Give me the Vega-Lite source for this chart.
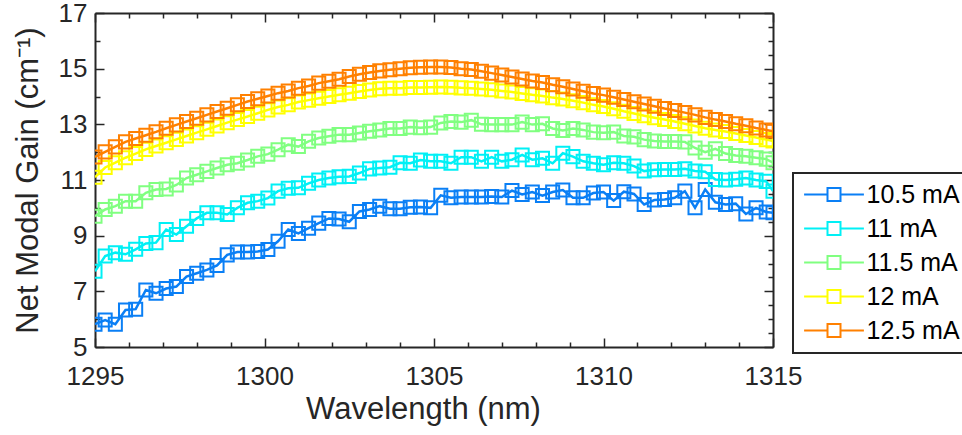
{
"$schema": "https://vega.github.io/schema/vega-lite/v6.json",
"width": 678, "height": 334,
"autosize": {"type": "none"},
"padding": {"left": 95, "top": 13, "right": 189, "bottom": 88},
"background": "white",
"config": {"view": {"stroke": null}, "font": "Liberation Sans"},
"datasets": {
"d": [
{"w":1295,"c":"10.5 mA","g":5.82},{"w":1295.3,"c":"10.5 mA","g":5.97},{"w":1295.6,"c":"10.5 mA","g":5.82},{"w":1295.9,"c":"10.5 mA","g":6.33},{"w":1296.2,"c":"10.5 mA","g":6.36},{"w":1296.5,"c":"10.5 mA","g":7.05},{"w":1296.8,"c":"10.5 mA","g":6.93},{"w":1297.1,"c":"10.5 mA","g":7.1},{"w":1297.4,"c":"10.5 mA","g":7.17},{"w":1297.7,"c":"10.5 mA","g":7.53},{"w":1298,"c":"10.5 mA","g":7.65},{"w":1298.3,"c":"10.5 mA","g":7.77},{"w":1298.6,"c":"10.5 mA","g":7.93},{"w":1298.9,"c":"10.5 mA","g":8.31},{"w":1299.2,"c":"10.5 mA","g":8.41},{"w":1299.5,"c":"10.5 mA","g":8.41},{"w":1299.8,"c":"10.5 mA","g":8.43},{"w":1300.1,"c":"10.5 mA","g":8.5},{"w":1300.4,"c":"10.5 mA","g":8.8},{"w":1300.7,"c":"10.5 mA","g":9.22},{"w":1301,"c":"10.5 mA","g":9.08},{"w":1301.3,"c":"10.5 mA","g":9.27},{"w":1301.6,"c":"10.5 mA","g":9.45},{"w":1301.9,"c":"10.5 mA","g":9.62},{"w":1302.2,"c":"10.5 mA","g":9.6},{"w":1302.5,"c":"10.5 mA","g":9.5},{"w":1302.8,"c":"10.5 mA","g":9.87},{"w":1303.1,"c":"10.5 mA","g":9.94},{"w":1303.4,"c":"10.5 mA","g":10.06},{"w":1303.7,"c":"10.5 mA","g":9.97},{"w":1304,"c":"10.5 mA","g":9.97},{"w":1304.3,"c":"10.5 mA","g":10.02},{"w":1304.6,"c":"10.5 mA","g":10.03},{"w":1304.9,"c":"10.5 mA","g":10.0},{"w":1305.2,"c":"10.5 mA","g":10.45},{"w":1305.5,"c":"10.5 mA","g":10.36},{"w":1305.8,"c":"10.5 mA","g":10.39},{"w":1306.1,"c":"10.5 mA","g":10.39},{"w":1306.4,"c":"10.5 mA","g":10.39},{"w":1306.7,"c":"10.5 mA","g":10.41},{"w":1307,"c":"10.5 mA","g":10.39},{"w":1307.3,"c":"10.5 mA","g":10.62},{"w":1307.6,"c":"10.5 mA","g":10.48},{"w":1307.9,"c":"10.5 mA","g":10.57},{"w":1308.2,"c":"10.5 mA","g":10.44},{"w":1308.5,"c":"10.5 mA","g":10.57},{"w":1308.8,"c":"10.5 mA","g":10.64},{"w":1309.1,"c":"10.5 mA","g":10.36},{"w":1309.4,"c":"10.5 mA","g":10.36},{"w":1309.7,"c":"10.5 mA","g":10.53},{"w":1310,"c":"10.5 mA","g":10.57},{"w":1310.3,"c":"10.5 mA","g":10.26},{"w":1310.6,"c":"10.5 mA","g":10.58},{"w":1310.9,"c":"10.5 mA","g":10.5},{"w":1311.2,"c":"10.5 mA","g":10.12},{"w":1311.5,"c":"10.5 mA","g":10.28},{"w":1311.8,"c":"10.5 mA","g":10.3},{"w":1312.1,"c":"10.5 mA","g":10.36},{"w":1312.4,"c":"10.5 mA","g":10.6},{"w":1312.7,"c":"10.5 mA","g":10.0},{"w":1313,"c":"10.5 mA","g":10.66},{"w":1313.3,"c":"10.5 mA","g":10.2},{"w":1313.6,"c":"10.5 mA","g":10.12},{"w":1313.9,"c":"10.5 mA","g":10.15},{"w":1314.2,"c":"10.5 mA","g":9.78},{"w":1314.5,"c":"10.5 mA","g":10.0},{"w":1314.8,"c":"10.5 mA","g":9.85},{"w":1315,"c":"10.5 mA","g":9.82},
{"w":1295,"c":"11 mA","g":7.72},{"w":1295.3,"c":"11 mA","g":8.27},{"w":1295.6,"c":"11 mA","g":8.39},{"w":1295.9,"c":"11 mA","g":8.33},{"w":1296.2,"c":"11 mA","g":8.51},{"w":1296.5,"c":"11 mA","g":8.72},{"w":1296.8,"c":"11 mA","g":8.75},{"w":1297.1,"c":"11 mA","g":9.22},{"w":1297.4,"c":"11 mA","g":9.04},{"w":1297.7,"c":"11 mA","g":9.34},{"w":1298,"c":"11 mA","g":9.62},{"w":1298.3,"c":"11 mA","g":9.82},{"w":1298.6,"c":"11 mA","g":9.82},{"w":1298.9,"c":"11 mA","g":9.76},{"w":1299.2,"c":"11 mA","g":10.0},{"w":1299.5,"c":"11 mA","g":10.18},{"w":1299.8,"c":"11 mA","g":10.24},{"w":1300.1,"c":"11 mA","g":10.35},{"w":1300.4,"c":"11 mA","g":10.6},{"w":1300.7,"c":"11 mA","g":10.7},{"w":1301,"c":"11 mA","g":10.72},{"w":1301.3,"c":"11 mA","g":10.88},{"w":1301.6,"c":"11 mA","g":11.0},{"w":1301.9,"c":"11 mA","g":11.07},{"w":1302.2,"c":"11 mA","g":11.12},{"w":1302.5,"c":"11 mA","g":11.13},{"w":1302.8,"c":"11 mA","g":11.25},{"w":1303.1,"c":"11 mA","g":11.4},{"w":1303.4,"c":"11 mA","g":11.43},{"w":1303.7,"c":"11 mA","g":11.46},{"w":1304,"c":"11 mA","g":11.62},{"w":1304.3,"c":"11 mA","g":11.6},{"w":1304.6,"c":"11 mA","g":11.72},{"w":1304.9,"c":"11 mA","g":11.67},{"w":1305.2,"c":"11 mA","g":11.67},{"w":1305.5,"c":"11 mA","g":11.6},{"w":1305.8,"c":"11 mA","g":11.82},{"w":1306.1,"c":"11 mA","g":11.82},{"w":1306.4,"c":"11 mA","g":11.67},{"w":1306.7,"c":"11 mA","g":11.82},{"w":1307,"c":"11 mA","g":11.67},{"w":1307.3,"c":"11 mA","g":11.73},{"w":1307.6,"c":"11 mA","g":11.9},{"w":1307.9,"c":"11 mA","g":11.73},{"w":1308.2,"c":"11 mA","g":11.78},{"w":1308.5,"c":"11 mA","g":11.6},{"w":1308.8,"c":"11 mA","g":11.96},{"w":1309.1,"c":"11 mA","g":11.84},{"w":1309.4,"c":"11 mA","g":11.67},{"w":1309.7,"c":"11 mA","g":11.6},{"w":1310,"c":"11 mA","g":11.55},{"w":1310.3,"c":"11 mA","g":11.62},{"w":1310.6,"c":"11 mA","g":11.6},{"w":1310.9,"c":"11 mA","g":11.5},{"w":1311.2,"c":"11 mA","g":11.32},{"w":1311.5,"c":"11 mA","g":11.37},{"w":1311.8,"c":"11 mA","g":11.38},{"w":1312.1,"c":"11 mA","g":11.38},{"w":1312.4,"c":"11 mA","g":11.4},{"w":1312.7,"c":"11 mA","g":11.32},{"w":1313,"c":"11 mA","g":11.3},{"w":1313.3,"c":"11 mA","g":11.02},{"w":1313.6,"c":"11 mA","g":11.0},{"w":1313.9,"c":"11 mA","g":11.03},{"w":1314.2,"c":"11 mA","g":11.07},{"w":1314.5,"c":"11 mA","g":11.0},{"w":1314.8,"c":"11 mA","g":10.95},{"w":1315,"c":"11 mA","g":10.6},
{"w":1295,"c":"11.5 mA","g":9.7},{"w":1295.3,"c":"11.5 mA","g":9.94},{"w":1295.6,"c":"11.5 mA","g":10.06},{"w":1295.9,"c":"11.5 mA","g":10.24},{"w":1296.2,"c":"11.5 mA","g":10.24},{"w":1296.5,"c":"11.5 mA","g":10.54},{"w":1296.8,"c":"11.5 mA","g":10.66},{"w":1297.1,"c":"11.5 mA","g":10.68},{"w":1297.4,"c":"11.5 mA","g":10.82},{"w":1297.7,"c":"11.5 mA","g":11.07},{"w":1298,"c":"11.5 mA","g":11.19},{"w":1298.3,"c":"11.5 mA","g":11.31},{"w":1298.6,"c":"11.5 mA","g":11.43},{"w":1298.9,"c":"11.5 mA","g":11.55},{"w":1299.2,"c":"11.5 mA","g":11.6},{"w":1299.5,"c":"11.5 mA","g":11.72},{"w":1299.8,"c":"11.5 mA","g":11.85},{"w":1300.1,"c":"11.5 mA","g":11.93},{"w":1300.4,"c":"11.5 mA","g":12.09},{"w":1300.7,"c":"11.5 mA","g":12.27},{"w":1301,"c":"11.5 mA","g":12.2},{"w":1301.3,"c":"11.5 mA","g":12.39},{"w":1301.6,"c":"11.5 mA","g":12.51},{"w":1301.9,"c":"11.5 mA","g":12.57},{"w":1302.2,"c":"11.5 mA","g":12.63},{"w":1302.5,"c":"11.5 mA","g":12.63},{"w":1302.8,"c":"11.5 mA","g":12.69},{"w":1303.1,"c":"11.5 mA","g":12.75},{"w":1303.4,"c":"11.5 mA","g":12.8},{"w":1303.7,"c":"11.5 mA","g":12.85},{"w":1304,"c":"11.5 mA","g":12.85},{"w":1304.3,"c":"11.5 mA","g":12.9},{"w":1304.6,"c":"11.5 mA","g":12.88},{"w":1304.9,"c":"11.5 mA","g":12.9},{"w":1305.2,"c":"11.5 mA","g":13.05},{"w":1305.5,"c":"11.5 mA","g":13.1},{"w":1305.8,"c":"11.5 mA","g":13.08},{"w":1306.1,"c":"11.5 mA","g":13.15},{"w":1306.4,"c":"11.5 mA","g":13.0},{"w":1306.7,"c":"11.5 mA","g":12.99},{"w":1307,"c":"11.5 mA","g":12.99},{"w":1307.3,"c":"11.5 mA","g":12.99},{"w":1307.6,"c":"11.5 mA","g":13.08},{"w":1307.9,"c":"11.5 mA","g":12.99},{"w":1308.2,"c":"11.5 mA","g":13.02},{"w":1308.5,"c":"11.5 mA","g":12.85},{"w":1308.8,"c":"11.5 mA","g":12.78},{"w":1309.1,"c":"11.5 mA","g":12.85},{"w":1309.4,"c":"11.5 mA","g":12.8},{"w":1309.7,"c":"11.5 mA","g":12.72},{"w":1310,"c":"11.5 mA","g":12.7},{"w":1310.3,"c":"11.5 mA","g":12.72},{"w":1310.6,"c":"11.5 mA","g":12.58},{"w":1310.9,"c":"11.5 mA","g":12.55},{"w":1311.2,"c":"11.5 mA","g":12.45},{"w":1311.5,"c":"11.5 mA","g":12.4},{"w":1311.8,"c":"11.5 mA","g":12.38},{"w":1312.1,"c":"11.5 mA","g":12.38},{"w":1312.4,"c":"11.5 mA","g":12.37},{"w":1312.7,"c":"11.5 mA","g":12.15},{"w":1313,"c":"11.5 mA","g":12.0},{"w":1313.3,"c":"11.5 mA","g":12.12},{"w":1313.6,"c":"11.5 mA","g":11.95},{"w":1313.9,"c":"11.5 mA","g":11.88},{"w":1314.2,"c":"11.5 mA","g":11.85},{"w":1314.5,"c":"11.5 mA","g":11.8},{"w":1314.8,"c":"11.5 mA","g":11.75},{"w":1315,"c":"11.5 mA","g":11.62},
{"w":1295,"c":"12 mA","g":11.1},{"w":1295.3,"c":"12 mA","g":11.45},{"w":1295.6,"c":"12 mA","g":11.62},{"w":1295.9,"c":"12 mA","g":11.8},{"w":1296.2,"c":"12 mA","g":11.95},{"w":1296.5,"c":"12 mA","g":12.1},{"w":1296.8,"c":"12 mA","g":12.22},{"w":1297.1,"c":"12 mA","g":12.34},{"w":1297.4,"c":"12 mA","g":12.46},{"w":1297.7,"c":"12 mA","g":12.58},{"w":1298,"c":"12 mA","g":12.7},{"w":1298.3,"c":"12 mA","g":12.82},{"w":1298.6,"c":"12 mA","g":12.94},{"w":1298.9,"c":"12 mA","g":13.06},{"w":1299.2,"c":"12 mA","g":13.17},{"w":1299.5,"c":"12 mA","g":13.28},{"w":1299.8,"c":"12 mA","g":13.4},{"w":1300.1,"c":"12 mA","g":13.52},{"w":1300.4,"c":"12 mA","g":13.62},{"w":1300.7,"c":"12 mA","g":13.7},{"w":1301,"c":"12 mA","g":13.8},{"w":1301.3,"c":"12 mA","g":13.87},{"w":1301.6,"c":"12 mA","g":13.94},{"w":1301.9,"c":"12 mA","g":14.0},{"w":1302.2,"c":"12 mA","g":14.06},{"w":1302.5,"c":"12 mA","g":14.12},{"w":1302.8,"c":"12 mA","g":14.18},{"w":1303.1,"c":"12 mA","g":14.23},{"w":1303.4,"c":"12 mA","g":14.28},{"w":1303.7,"c":"12 mA","g":14.3},{"w":1304,"c":"12 mA","g":14.3},{"w":1304.3,"c":"12 mA","g":14.32},{"w":1304.6,"c":"12 mA","g":14.32},{"w":1304.9,"c":"12 mA","g":14.33},{"w":1305.2,"c":"12 mA","g":14.34},{"w":1305.5,"c":"12 mA","g":14.33},{"w":1305.8,"c":"12 mA","g":14.31},{"w":1306.1,"c":"12 mA","g":14.3},{"w":1306.4,"c":"12 mA","g":14.27},{"w":1306.7,"c":"12 mA","g":14.24},{"w":1307,"c":"12 mA","g":14.2},{"w":1307.3,"c":"12 mA","g":14.16},{"w":1307.6,"c":"12 mA","g":14.11},{"w":1307.9,"c":"12 mA","g":14.06},{"w":1308.2,"c":"12 mA","g":14.02},{"w":1308.5,"c":"12 mA","g":13.96},{"w":1308.8,"c":"12 mA","g":13.91},{"w":1309.1,"c":"12 mA","g":13.85},{"w":1309.4,"c":"12 mA","g":13.78},{"w":1309.7,"c":"12 mA","g":13.7},{"w":1310,"c":"12 mA","g":13.64},{"w":1310.3,"c":"12 mA","g":13.56},{"w":1310.6,"c":"12 mA","g":13.47},{"w":1310.9,"c":"12 mA","g":13.39},{"w":1311.2,"c":"12 mA","g":13.31},{"w":1311.5,"c":"12 mA","g":13.24},{"w":1311.8,"c":"12 mA","g":13.17},{"w":1312.1,"c":"12 mA","g":13.1},{"w":1312.4,"c":"12 mA","g":13.02},{"w":1312.7,"c":"12 mA","g":12.94},{"w":1313,"c":"12 mA","g":12.86},{"w":1313.3,"c":"12 mA","g":12.8},{"w":1313.6,"c":"12 mA","g":12.74},{"w":1313.9,"c":"12 mA","g":12.67},{"w":1314.2,"c":"12 mA","g":12.6},{"w":1314.5,"c":"12 mA","g":12.53},{"w":1314.8,"c":"12 mA","g":12.45},{"w":1315,"c":"12 mA","g":12.4},
{"w":1295,"c":"12.5 mA","g":11.83},{"w":1295.3,"c":"12.5 mA","g":12.01},{"w":1295.6,"c":"12.5 mA","g":12.19},{"w":1295.9,"c":"12.5 mA","g":12.37},{"w":1296.2,"c":"12.5 mA","g":12.49},{"w":1296.5,"c":"12.5 mA","g":12.61},{"w":1296.8,"c":"12.5 mA","g":12.73},{"w":1297.1,"c":"12.5 mA","g":12.86},{"w":1297.4,"c":"12.5 mA","g":12.98},{"w":1297.7,"c":"12.5 mA","g":13.1},{"w":1298,"c":"12.5 mA","g":13.22},{"w":1298.3,"c":"12.5 mA","g":13.34},{"w":1298.6,"c":"12.5 mA","g":13.46},{"w":1298.9,"c":"12.5 mA","g":13.58},{"w":1299.2,"c":"12.5 mA","g":13.7},{"w":1299.5,"c":"12.5 mA","g":13.82},{"w":1299.8,"c":"12.5 mA","g":13.92},{"w":1300.1,"c":"12.5 mA","g":14.02},{"w":1300.4,"c":"12.5 mA","g":14.12},{"w":1300.7,"c":"12.5 mA","g":14.2},{"w":1301,"c":"12.5 mA","g":14.3},{"w":1301.3,"c":"12.5 mA","g":14.38},{"w":1301.6,"c":"12.5 mA","g":14.48},{"w":1301.9,"c":"12.5 mA","g":14.55},{"w":1302.2,"c":"12.5 mA","g":14.62},{"w":1302.5,"c":"12.5 mA","g":14.72},{"w":1302.8,"c":"12.5 mA","g":14.8},{"w":1303.1,"c":"12.5 mA","g":14.86},{"w":1303.4,"c":"12.5 mA","g":14.92},{"w":1303.7,"c":"12.5 mA","g":14.96},{"w":1304,"c":"12.5 mA","g":15.0},{"w":1304.3,"c":"12.5 mA","g":15.03},{"w":1304.6,"c":"12.5 mA","g":15.05},{"w":1304.9,"c":"12.5 mA","g":15.06},{"w":1305.2,"c":"12.5 mA","g":15.06},{"w":1305.5,"c":"12.5 mA","g":15.04},{"w":1305.8,"c":"12.5 mA","g":15.0},{"w":1306.1,"c":"12.5 mA","g":14.97},{"w":1306.4,"c":"12.5 mA","g":14.91},{"w":1306.7,"c":"12.5 mA","g":14.84},{"w":1307,"c":"12.5 mA","g":14.77},{"w":1307.3,"c":"12.5 mA","g":14.7},{"w":1307.6,"c":"12.5 mA","g":14.63},{"w":1307.9,"c":"12.5 mA","g":14.56},{"w":1308.2,"c":"12.5 mA","g":14.5},{"w":1308.5,"c":"12.5 mA","g":14.42},{"w":1308.8,"c":"12.5 mA","g":14.35},{"w":1309.1,"c":"12.5 mA","g":14.27},{"w":1309.4,"c":"12.5 mA","g":14.19},{"w":1309.7,"c":"12.5 mA","g":14.11},{"w":1310,"c":"12.5 mA","g":14.05},{"w":1310.3,"c":"12.5 mA","g":13.97},{"w":1310.6,"c":"12.5 mA","g":13.89},{"w":1310.9,"c":"12.5 mA","g":13.81},{"w":1311.2,"c":"12.5 mA","g":13.73},{"w":1311.5,"c":"12.5 mA","g":13.65},{"w":1311.8,"c":"12.5 mA","g":13.57},{"w":1312.1,"c":"12.5 mA","g":13.5},{"w":1312.4,"c":"12.5 mA","g":13.42},{"w":1312.7,"c":"12.5 mA","g":13.34},{"w":1313,"c":"12.5 mA","g":13.25},{"w":1313.3,"c":"12.5 mA","g":13.17},{"w":1313.6,"c":"12.5 mA","g":13.1},{"w":1313.9,"c":"12.5 mA","g":13.02},{"w":1314.2,"c":"12.5 mA","g":12.95},{"w":1314.5,"c":"12.5 mA","g":12.87},{"w":1314.8,"c":"12.5 mA","g":12.8},{"w":1315,"c":"12.5 mA","g":12.75}
]
},
"data": {"name": "d"},
"layer": [
{
"mark": {"type": "line", "strokeWidth": 2.5, "clip": true},
"encoding": {
"x": {"field": "w", "type": "quantitative",
 "scale": {"domain": [1295, 1315], "nice": false, "zero": false},
 "axis": {"orient": "bottom", "title": "Wavelength (nm)", "format": "d",
  "values": [1295,1296,1297,1298,1299,1300,1301,1302,1303,1304,1305,1306,1307,1308,1309,1310,1311,1312,1313,1314,1315],
  "labelExpr": "datum.value % 5 === 0 ? datum.label : ''",
  "tickSize": {"condition": {"test": "datum.value % 5 === 0", "value": -9}, "value": -5},
  "labelPadding": 25, "labelFlush": false, "labelOverlap": false,
  "labelFontSize": 26, "labelColor": "#262626", "labelFont": "Liberation Sans",
  "titleFontSize": 31, "titleFontWeight": "normal", "titleColor": "#262626", "titleFont": "Liberation Sans", "titlePadding": 1, "titleX": 328,
  "domainColor": "#262626", "domainWidth": 2, "tickColor": "#262626", "tickWidth": 1.5, "grid": false}},
"y": {"field": "g", "type": "quantitative",
 "scale": {"domain": [5, 17], "nice": false, "zero": false},
 "axis": {"orient": "left", "title": "Net Modal Gain (cm⁻¹)", "format": "d",
  "values": [5,5.5,6,6.5,7,7.5,8,8.5,9,9.5,10,10.5,11,11.5,12,12.5,13,13.5,14,14.5,15,15.5,16,16.5,17],
  "labelExpr": "datum.value % 2 === 1 ? datum.label : ''",
  "tickSize": {"condition": {"test": "datum.value % 2 === 1", "value": -9}, "value": -5},
  "labelPadding": 17, "labelOverlap": false, "labelFlush": false,
  "labelFontSize": 26, "labelColor": "#262626", "labelFont": "Liberation Sans",
  "titleFontSize": 31, "titleFontWeight": "normal", "titleColor": "#262626", "titleFont": "Liberation Sans", "titlePadding": 14,
  "domainColor": "#262626", "domainWidth": 2, "tickColor": "#262626", "tickWidth": 1.5, "grid": false}},
"color": {"field": "c", "type": "nominal",
 "scale": {"domain": ["10.5 mA","11 mA","11.5 mA","12 mA","12.5 mA"], "range": ["#0a7ff5","#00f0f5","#80ff80","#ffff00","#ff8000"]},
 "legend": {"orient": "none", "legendX": 698, "legendY": 160, "title": null,
  "symbolType": "M-4.6,0H-1M1,0H4.6M-1,-1H1V1H-1Z", "symbolSize": 169, "symbolStrokeWidth": 2,
  "symbolFillColor": "transparent", "symbolOffset": 19.5, "labelOffset": 20,
  "labelFontSize": 25, "labelColor": "#000000", "labelFont": "Liberation Sans",
  "rowPadding": 8, "padding": 9, "strokeColor": "#262626", "fillColor": "white",
  "encode": {"legend": {"update": {"strokeWidth": {"value": 2}}}, "symbols": {"update": {"fill": {"value": "transparent"}}}}}}
}
},
{
"mark": {"type": "point", "shape": "square", "size": 170, "strokeWidth": 2, "filled": false, "clip": true, "opacity": 1},
"encoding": {
"x": {"field": "w", "type": "quantitative",
 "axis": {"orient": "top", "title": null, "labels": false,
  "values": [1295,1296,1297,1298,1299,1300,1301,1302,1303,1304,1305,1306,1307,1308,1309,1310,1311,1312,1313,1314,1315],
  "tickSize": {"condition": {"test": "datum.value % 5 === 0", "value": -9}, "value": -5},
  "domainColor": "#262626", "domainWidth": 2, "tickColor": "#262626", "tickWidth": 1.5, "grid": false}},
"y": {"field": "g", "type": "quantitative",
 "axis": {"orient": "right", "title": null, "labels": false,
  "values": [5,5.5,6,6.5,7,7.5,8,8.5,9,9.5,10,10.5,11,11.5,12,12.5,13,13.5,14,14.5,15,15.5,16,16.5,17],
  "tickSize": {"condition": {"test": "datum.value % 2 === 1", "value": -9}, "value": -5},
  "domainColor": "#262626", "domainWidth": 2, "tickColor": "#262626", "tickWidth": 1.5, "grid": false}},
"color": {"field": "c", "type": "nominal"}
}
}
],
"resolve": {"axis": {"x": "independent", "y": "independent"}}
}
